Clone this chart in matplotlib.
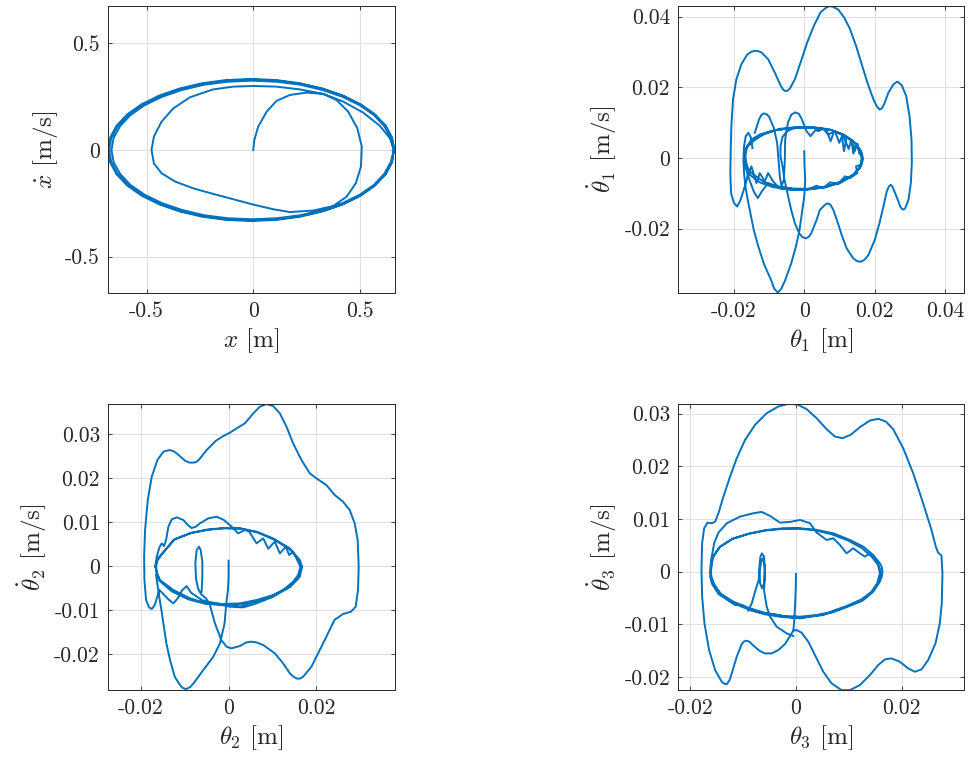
import numpy as np
import matplotlib.pyplot as plt
from matplotlib.ticker import FuncFormatter

plt.rcParams['font.family'] = 'cmr10'
plt.rcParams['mathtext.fontset'] = 'cm'
plt.rcParams['axes.unicode_minus'] = False
plt.rcParams['axes.formatter.use_mathtext'] = True

BLUE = '#0072BD'
DARK = '#262626'

# ---- cart: x [m], xdot [m/s] ----
cart_start = [(0, 0), (0.005, 0.047), (0.023, 0.109), (0.063, 0.180), (0.109, 0.230),
              (0.172, 0.258), (0.25, 0.269), (0.328, 0.263), (0.391, 0.234), (0.445, 0.180),
              (0.488, 0.102), (0.509, 0.016), (0.505, -0.078), (0.481, -0.156), (0.438, -0.219),
              (0.375, -0.263), (0.281, -0.284), (0.172, -0.291), (0.094, -0.278), (0, -0.256),
              (-0.094, -0.231), (-0.188, -0.206), (-0.281, -0.180), (-0.367, -0.148),
              (-0.430, -0.109), (-0.466, -0.063), (-0.477, 0), (-0.466, 0.063), (-0.430, 0.133),
              (-0.375, 0.195), (-0.297, 0.247), (-0.188, 0.284), (-0.094, 0.297), (0, 0.300),
              (0.109, 0.297), (0.219, 0.284), (0.328, 0.263), (0.422, 0.227), (0.516, 0.175),
              (0.594, 0.113), (0.641, 0.055), (0.659, 0)]
cart_loop1 = [(0.659, 0), (0.645, -0.057), (0.615, -0.111), (0.567, -0.163), (0.501, -0.209),
              (0.419, -0.249), (0.325, -0.281), (0.221, -0.306), (0.110, -0.320), (-0.005, -0.325),
              (-0.120, -0.320), (-0.231, -0.306), (-0.335, -0.281), (-0.429, -0.249),
              (-0.511, -0.209), (-0.577, -0.163), (-0.625, -0.111), (-0.655, -0.057), (-0.665, 0),
              (-0.655, 0.057), (-0.625, 0.111), (-0.577, 0.163), (-0.511, 0.209), (-0.429, 0.249),
              (-0.335, 0.281), (-0.231, 0.306), (-0.120, 0.320), (-0.005, 0.325), (0.110, 0.320),
              (0.221, 0.306), (0.325, 0.281), (0.419, 0.249), (0.501, 0.209), (0.567, 0.163),
              (0.615, 0.111), (0.645, 0.057), (0.660, 0)]
cart_loop2 = [(0.660, 0), (0.650, -0.057), (0.620, -0.113), (0.570, -0.165), (0.504, -0.212),
              (0.422, -0.253), (0.326, -0.286), (0.220, -0.310), (0.108, -0.325), (-0.008, -0.330),
              (-0.124, -0.325), (-0.236, -0.310), (-0.342, -0.286), (-0.438, -0.253),
              (-0.520, -0.212), (-0.586, -0.165), (-0.636, -0.113), (-0.666, -0.057), (-0.676, 0),
              (-0.666, 0.057), (-0.636, 0.113), (-0.586, 0.165), (-0.520, 0.212), (-0.438, 0.253),
              (-0.342, 0.286), (-0.236, 0.310), (-0.124, 0.325), (-0.008, 0.330), (0.108, 0.325),
              (0.220, 0.310), (0.326, 0.286), (0.422, 0.253), (0.504, 0.212), (0.570, 0.165),
              (0.620, 0.113), (0.650, 0.057), (0.660, 0)]
cart_loop3 = [(0.660, 0), (0.651, -0.058), (0.621, -0.114), (0.571, -0.167), (0.504, -0.214),
              (0.421, -0.255), (0.326, -0.288), (0.219, -0.313), (0.107, -0.328), (-0.010, -0.333),
              (-0.127, -0.328), (-0.239, -0.313), (-0.346, -0.288), (-0.441, -0.255),
              (-0.524, -0.214), (-0.591, -0.167), (-0.641, -0.114), (-0.671, -0.058), (-0.681, 0),
              (-0.671, 0.058), (-0.641, 0.114), (-0.591, 0.167), (-0.524, 0.214), (-0.441, 0.255),
              (-0.346, 0.288), (-0.239, 0.313), (-0.127, 0.328), (-0.010, 0.333), (0.107, 0.328),
              (0.219, 0.313), (0.326, 0.288), (0.421, 0.255), (0.504, 0.214), (0.571, 0.167),
              (0.621, 0.114), (0.651, 0.058), (0.662, 0)]

# ---- link 1 (values in 1e-3) ----
th1_start = [(0, 1.90), (0.09, -2.37), (0.28, -6.16), (0, -10.90), (-0.66, -15.64),
             (-1.33, -20.38), (-2.37, -25.12), (-3.70, -29.86), (-5.40, -34.60), (-6.50, -37.0),
             (-7.49, -38.1), (-8.50, -37.0), (-9.38, -34.60), (-11.47, -29.86), (-12.99, -25.12),
             (-14.31, -20.38), (-15.26, -15.64), (-16.02, -11.85), (-16.68, -8.06),
             (-17.06, -4.27), (-17.25, -0.47), (-17.06, 3.32), (-16.59, 6.16), (-15.83, 7.11),
             (-15.07, 5.69), (-14.69, 2.84)]
th1_inner = [(-14.03, 7.11), (-12.80, 10.90), (-12.20, 12.10), (-11.47, 12.61), (-10.70, 12.40),
             (-9.95, 11.66), (-8.63, 8.53), (-7.68, 4.27), (-7.30, -0.47), (-6.92, -5.21),
             (-6.45, -8.06), (-5.78, -6.16), (-5.50, -0.47), (-5.40, 5.21), (-4.64, 9.95),
             (-3.70, 12.20), (-2.60, 12.90), (-1.50, 12.50), (-0.66, 10.90), (0.66, 7.58),
             (1.80, 6.16), (2.94, 7.58), (4.45, 8.53), (6.35, 7.87), (7.49, 4.74), (8.44, 7.58),
             (10.62, 6.64), (11.28, 1.90), (12.04, 5.97), (13.46, 4.74), (13.93, 1.23),
             (14.69, 4.08), (15.64, 1.90), (16.59, -0.28), (15.83, -2.84), (13.93, -4.74),
             (10.62, -6.64), (6.35, -8.25), (1.61, -8.82), (-3.13, -8.72), (-7.87, -8.06),
             (-10.24, -7.11), (-12.04, -9.48), (-13.18, -11.37), (-14.31, -9.48),
             (-15.55, -6.16), (-16.59, -2.84), (-17.06, 0)]
th1_orbit_a = [(-17.06, 0), (-16.90, 1.50), (-16.40, 2.84), (-14.50, 4.74), (-11.66, 6.64),
               (-7.87, 7.87), (-3.13, 8.53), (2.56, 8.72), (7.30, 8.06), (11.09, 6.64),
               (13.93, 4.74), (15.83, 2.37), (16.40, 1.20), (16.59, 0), (16.45, -1.20),
               (16.02, -2.37), (13.93, -4.74), (10.62, -6.64), (6.35, -8.06), (1.61, -8.72),
               (-3.13, -8.72), (-7.87, -8.06), (-11.66, -6.64), (-14.98, -4.27), (-16.59, -2.09),
               (-16.95, -1.10), (-17.06, 0)]
th1_orbit_b = [(-17.06, -0.28), (-16.85, 1.60), (-16.21, 3.32), (-14.03, 5.40), (-10.71, 7.11),
               (-6.92, 8.25), (-2.18, 8.72), (3.03, 8.53), (7.77, 7.87), (11.56, 6.35),
               (14.41, 4.27), (16.11, 1.90), (16.40, -0.28), (15.64, -2.84), (13.46, -5.21),
               (10.14, -7.11), (5.40, -8.34), (0.66, -9.00), (-4.08, -8.91), (-8.82, -8.25),
               (-12.61, -6.92), (-15.45, -4.74), (-16.78, -2.37), (-17.06, -0.28)]
th1_outer = [(-15.92, -4.27), (-16.40, -6.64), (-17.44, -9.95), (-18.20, -12.20), (-19.05, -13.74),
             (-20.00, -12.60), (-20.76, -9.95), (-20.95, -4.27), (-20.85, 2.37), (-20.66, 9.00),
             (-20.19, 16.59), (-19.24, 22.27), (-17.82, 26.54), (-16.21, 29.19), (-15.10, 30.00),
             (-14.03, 30.33), (-13.00, 30.20), (-12.13, 29.86), (-10.24, 27.96), (-8.34, 24.17),
             (-6.73, 20.57), (-6.10, 19.50), (-5.50, 18.96), (-4.80, 19.00), (-4.08, 19.62),
             (-2.65, 22.27), (-1.04, 27.01), (0.85, 32.70), (2.75, 37.44), (4.64, 41.23),
             (6.35, 42.65), (7.20, 42.95), (8.06, 42.84), (9.67, 41.99), (11.28, 39.81),
             (12.99, 36.49), (14.69, 31.75), (16.30, 26.54), (17.91, 21.33), (19.62, 16.59),
             (20.60, 14.60), (21.33, 13.74), (22.00, 14.00), (22.65, 15.17), (23.89, 18.48),
             (25.31, 20.85), (26.45, 21.61), (27.68, 20.57), (28.91, 17.54), (29.86, 11.85),
             (30.43, 5.21), (30.52, -1.42), (30.24, -7.11), (29.57, -11.85), (28.63, -14.22),
             (28.20, -14.60), (27.77, -14.50), (27.20, -13.70), (26.73, -12.32), (25.59, -9.48),
             (25.00, -8.10), (24.55, -7.58), (24.00, -8.10), (23.41, -9.48), (22.46, -13.74),
             (21.33, -18.48), (20.00, -23.22), (18.20, -27.49), (17.10, -28.80), (16.02, -29.38),
             (15.00, -29.20), (13.93, -28.44), (12.04, -25.59), (10.62, -21.80), (9.57, -18.48),
             (8.25, -14.69), (7.60, -13.50), (7.11, -12.99), (6.50, -12.90), (5.88, -13.27),
             (4.45, -14.69), (3.51, -17.54), (1.99, -21.33), (1.20, -22.40), (0.38, -22.75),
             (-0.50, -22.40), (-1.42, -21.33), (-2.65, -18.48), (-3.70, -14.69), (-4.64, -10.43),
             (-5.59, -6.16), (-6.16, -2.37), (-6.73, 0.47), (-6.73, 3.32), (-6.16, 5.97),
             (-4.83, 7.58), (-3.13, 8.34)]
th1_orbit_c = [(-3.13, 8.34), (-0.28, 8.63), (2.56, 8.63), (3.98, 7.58), (5.40, 8.25),
               (6.82, 6.64), (8.72, 7.58), (9.95, 4.27), (10.90, 6.64), (12.61, 2.56),
               (13.36, 5.21), (14.31, 1.90), (15.07, 4.08), (15.64, 1.23), (16.30, 0.47),
               (16.21, -1.90), (14.69, -2.37), (15.07, -4.27), (12.99, -5.69), (11.56, -5.21),
               (9.67, -7.30), (7.30, -6.92), (5.40, -8.53), (3.51, -7.87), (0.66, -9.00),
               (-3.13, -9.00), (-6.92, -8.63), (-8.82, -6.64), (-10.24, -4.27), (-11.18, -6.64),
               (-12.61, -4.27), (-13.55, -7.11), (-14.98, -2.37), (-15.64, -4.27),
               (-16.40, -1.42), (-16.68, 0.47), (-16.21, 3.32), (-14.98, 5.21), (-12.61, 6.64),
               (-8.82, 7.77), (-4.08, 8.44)]

# ---- link 2 (values in 1e-3) ----
th2_start = [(0, 1.29), (0, -2.35), (-0.15, -5.38), (-0.53, -8.41), (-0.91, -12.95),
             (-1.97, -17.50), (-3.48, -20.53), (-5.76, -23.56), (-7.88, -26.44), (-8.70, -27.40),
             (-9.70, -27.90), (-10.50, -27.60), (-11.06, -26.97), (-12.27, -25.08),
             (-13.33, -21.29), (-14.17, -17.50), (-14.85, -12.95), (-15.30, -9.92),
             (-15.68, -7.65), (-16.14, -4.62), (-16.52, -1.97)]
th2_inner = [(-16.67, -0.08), (-16.36, 2.20), (-15.76, 4.32), (-15.23, 5.23), (-14.70, 4.62),
             (-14.24, 5.98), (-13.71, 9.02), (-12.95, 10.68), (-11.82, 11.14), (-10.30, 10.53),
             (-9.30, 9.40), (-8.41, 8.71), (-7.50, 9.00), (-6.52, 9.77), (-4.62, 10.91),
             (-2.73, 11.29), (-1.06, 10.53), (0.68, 9.02), (2.20, 7.50), (3.71, 8.26),
             (4.70, 7.88), (6.36, 5.23), (7.88, 6.36), (9.02, 4.02), (10.53, 5.61), (11.67, 2.95),
             (13.03, 4.47), (13.79, 2.58), (14.70, 3.33), (15.61, 1.44), (16.36, -0.08),
             (15.83, -1.97), (14.70, -3.48), (12.42, -5.38), (9.39, -7.05), (5.61, -8.11),
             (2.58, -9.17), (0.30, -8.79), (-2.73, -8.41), (-5.00, -8.03)]
th2_outer = [(-6.14, -5.76), (-5.98, -2.35), (-5.98, 1.06), (-6.36, 3.71), (-6.74, 4.47),
             (-7.27, 3.71), (-7.58, 0.68), (-7.42, -2.73), (-6.97, -5.00), (-6.29, -6.29),
             (-5.15, -7.27), (-4.32, -8.56), (-3.11, -12.95), (-1.67, -16.74), (-0.45, -18.26),
             (0.61, -18.64), (2.58, -18.11), (4.00, -17.30), (5.15, -17.12), (6.40, -17.30),
             (7.88, -17.88), (10.53, -19.77), (12.42, -22.05), (13.94, -24.32), (14.80, -25.10),
             (15.61, -25.53), (16.30, -25.50), (16.97, -25.08), (18.86, -22.80), (20.38, -19.77),
             (22.27, -15.98), (24.09, -12.20), (26.06, -10.83), (27.88, -10.30), (28.94, -9.17),
             (29.47, -5.38), (29.62, -0.08), (29.39, 5.98), (28.71, 9.77), (27.58, 12.80),
             (26.06, 14.70), (24.17, 16.21), (22.27, 18.48), (20.00, 20.00), (18.48, 21.14),
             (16.59, 24.17), (14.70, 27.95), (13.18, 31.74), (11.67, 34.77), (10.15, 36.44),
             (8.64, 36.89), (7.12, 36.29), (5.61, 34.77), (3.71, 32.50), (1.82, 31.36),
             (0.30, 30.38), (-1.21, 29.62), (-2.88, 28.56), (-5.00, 26.44), (-6.67, 24.32),
             (-7.40, 23.70), (-8.18, 23.56), (-9.00, 23.60), (-9.92, 24.02), (-11.82, 25.68),
             (-12.60, 26.20), (-13.48, 26.44), (-14.85, 26.06), (-16.21, 24.17), (-17.50, 20.38),
             (-18.41, 15.08), (-19.02, 8.26), (-19.24, 2.20), (-19.17, -3.11), (-18.79, -7.65),
             (-18.11, -9.32), (-17.50, -9.70), (-16.82, -8.79), (-16.36, -7.27), (-15.76, -5.38),
             (-14.85, -6.29), (-13.71, -7.50), (-12.58, -8.41), (-11.59, -7.27), (-10.68, -5.53),
             (-9.55, -4.47), (-8.56, -5.98), (-7.42, -6.74), (-6.14, -7.65), (-3.48, -8.41),
             (0.30, -9.17), (3.33, -9.32), (6.36, -8.41), (10.15, -6.89), (13.94, -4.62),
             (15.83, -2.73), (16.44, -0.45)]
th2_orbit_a = [(16.74, -0.08), (16.21, -2.35), (13.94, -4.62), (10.15, -6.52), (6.36, -7.65),
               (2.58, -8.41), (-1.21, -8.56), (-5.00, -8.41), (-8.79, -7.27), (-12.58, -5.38),
               (-15.61, -3.11), (-16.20, -1.70), (-16.52, -0.08), (-16.20, 1.30), (-15.61, 2.20),
               (-12.58, 5.98), (-8.79, 7.50), (-5.00, 8.26), (-1.21, 8.64), (2.58, 8.64),
               (6.36, 7.88), (10.15, 6.36), (13.94, 4.09), (16.21, 1.44), (16.74, -0.08)]
th2_orbit_b = [(16.52, -0.23), (15.91, -2.50), (13.56, -4.92), (9.77, -6.89), (5.98, -8.03),
               (2.20, -8.64), (-1.59, -8.79), (-5.38, -8.48), (-9.17, -7.50), (-12.95, -5.68),
               (-15.76, -3.26), (-16.40, -1.70), (-16.67, 0.08), (-16.30, 1.50), (-15.45, 2.58),
               (-12.20, 6.21), (-8.41, 7.65), (-4.62, 8.41), (-0.83, 8.71), (2.95, 8.56),
               (6.74, 7.65), (10.53, 5.98), (14.09, 3.71), (16.06, 1.29), (16.52, -0.23)]

# ---- link 3 (values in 1e-3) ----
th3_start = [(0, -0.44), (-0.06, -3.48), (-0.19, -6.65), (-0.32, -9.18), (-0.50, -11.20)]
th3_outer = [(-0.50, -11.20), (-1.14, -12.22), (-2.08, -13.73), (-3.34, -14.87), (-4.61, -15.51),
             (-5.87, -15.51), (-6.94, -15.00), (-8.20, -13.92), (-8.80, -13.30), (-9.34, -13.10),
             (-9.80, -13.20), (-10.28, -13.73), (-11.23, -16.14), (-12.18, -19.30),
             (-12.60, -20.60), (-13.12, -21.33), (-13.50, -21.30), (-14.07, -20.89),
             (-15.33, -18.67), (-16.47, -14.87), (-17.35, -9.81), (-17.79, -4.75), (-17.92, 0.32),
             (-17.79, 5.38), (-17.41, 8.23), (-16.78, 9.30), (-15.96, 9.18), (-15.33, 9.49),
             (-14.70, 11.08), (-13.75, 14.24), (-12.49, 18.04), (-11.23, 21.52), (-9.65, 25.00),
             (-7.76, 27.85), (-5.55, 30.06), (-3.34, 31.33), (-1.45, 31.84), (0.25, 31.71),
             (2.02, 30.82), (3.91, 29.11), (5.80, 27.03), (7.38, 25.63), (8.83, 25.32),
             (10.35, 25.95), (12.11, 27.41), (14.01, 28.67), (15.58, 28.99), (17.03, 28.48),
             (18.42, 27.03), (20.32, 23.42), (22.21, 18.67), (24.10, 12.97), (25.68, 7.91),
             (26.50, 4.75), (26.94, 3.61), (27.57, 3.04), (27.76, -0.32), (27.63, -6.01),
             (27.26, -9.81), (26.44, -13.61), (25.05, -16.77), (23.79, -18.54), (22.52, -18.99),
             (21.26, -18.35), (19.68, -17.09), (18.11, -16.46), (16.85, -16.65), (15.58, -17.72),
             (14.01, -19.62), (12.11, -21.52), (10.22, -22.47), (8.64, -22.47), (6.75, -21.20),
             (5.17, -18.99), (3.60, -15.82), (2.33, -13.29), (1.07, -11.58), (0.13, -11.08),
             (-0.50, -11.20)]
th3_spiral = [(-9.02, -7.41), (-8.39, -6.01), (-7.76, -3.80), (-7.07, -1.58), (-6.94, 0.95),
              (-6.75, 2.85), (-6.44, 3.48), (-6.06, 2.85), (-5.87, 0.32), (-6.06, -2.22),
              (-6.44, -3.16), (-6.81, -2.22), (-6.88, 0), (-6.62, 1.90), (-6.31, 2.53),
              (-5.99, 1.27), (-5.93, -1.58), (-6.06, -3.48), (-5.55, -6.65), (-4.92, -8.54),
              (-3.66, -10.44), (-1.77, -11.71), (-0.50, -12.22)]
th3_inner = [(-16.15, -0.95), (-15.96, 2.85), (-15.52, 5.38), (-14.70, 7.41), (-13.12, 9.18),
             (-10.60, 10.44), (-8.08, 11.08), (-6.50, 11.33), (-4.92, 10.57), (-3.03, 9.30),
             (-1.14, 9.43), (0.76, 9.81), (2.65, 9.18), (3.91, 7.41), (5.80, 6.01), (7.07, 6.33),
             (8.33, 5.06), (9.59, 3.48), (10.85, 4.43), (12.11, 3.48), (13.06, 2.85),
             (14.01, 3.48), (14.95, 2.53), (15.58, 1.27), (15.90, -0.32), (15.39, -2.22),
             (14.32, -3.80), (12.43, -5.25), (9.59, -6.52), (7.07, -7.41), (5.17, -8.23),
             (3.28, -8.42), (0.76, -8.86), (-1.77, -8.54), (-4.29, -8.04), (-6.81, -7.78),
             (-8.71, -7.28), (-10.28, -6.33), (-11.55, -6.33), (-12.81, -5.38), (-14.07, -4.43),
             (-15.33, -2.85), (-15.96, -1.27)]
th3_orbit_a = [(-15.65, 2.85), (-14.38, 4.75), (-11.86, 6.33), (-8.71, 7.28), (-5.55, 7.91),
               (-2.40, 8.23), (0.76, 8.23), (3.91, 7.91), (7.07, 7.28), (10.22, 6.01),
               (12.74, 4.75), (14.64, 3.16), (15.90, 1.58), (16.25, 0.90), (16.40, 0),
               (16.25, -1.00), (15.90, -1.90), (14.64, -3.80), (12.74, -5.38), (9.59, -6.65),
               (7.07, -7.59), (3.91, -8.23), (0.76, -8.54), (-2.40, -8.42), (-5.55, -7.91),
               (-8.71, -6.96), (-11.86, -5.70), (-14.38, -4.11), (-15.65, -2.22), (-16.00, -1.20),
               (-16.15, 0), (-16.00, 1.40), (-15.65, 2.85)]
th3_orbit_b = [(-15.96, 2.53), (-14.51, 4.62), (-12.18, 6.14), (-9.02, 7.15), (-5.87, 7.78),
               (-2.71, 8.10), (0.44, 8.16), (3.60, 7.85), (6.75, 7.09), (9.91, 5.89),
               (12.43, 4.49), (14.32, 2.85), (15.58, 1.27), (15.90, 0.55), (16.03, -0.19),
               (15.90, -1.10), (15.58, -2.09), (14.32, -3.99), (12.43, -5.57), (9.27, -6.84),
               (6.75, -7.78), (3.60, -8.42), (0.44, -8.80), (-2.71, -8.61), (-5.87, -8.10),
               (-9.02, -7.15), (-12.18, -5.89), (-14.70, -4.24), (-15.90, -2.34), (-16.20, -1.30),
               (-16.28, -0.19), (-16.20, 1.20), (-15.96, 2.53)]


def trajectory(*pieces, scale=1.0):
    # join the traced pieces, breaking the line where two pieces do not touch
    pts = []
    for piece in pieces:
        if pts and np.hypot(pts[-1][0] - piece[0][0], pts[-1][1] - piece[0][1]) > 1.5:
            pts.append((np.nan, np.nan))
        pts.extend(piece)
    arr = np.array(pts, dtype=float) * scale
    return arr[:, 0], arr[:, 1]


panels = [
    dict(data=trajectory(cart_start, cart_loop1, cart_loop2, cart_loop3),
         xlim=(-0.68, 0.663), ylim=(-0.672, 0.675),
         xticks=[-0.5, 0, 0.5], yticks=[-0.5, 0, 0.5],
         xlabel=r'$x$ [m]', ylabel=r'$\dot{x}$ [m/s]',
         rect=[0.1115, 0.6151, 0.2949, 0.3770]),
    dict(data=trajectory(th1_start, th1_inner, th1_orbit_a, th1_orbit_b, th1_outer,
                         th1_orbit_c, scale=1e-3),
         xlim=(-0.0357, 0.0454), ylim=(-0.0383, 0.0430),
         xticks=[-0.02, 0, 0.02, 0.04], yticks=[-0.02, 0, 0.02, 0.04],
         xlabel=r'$\theta_1$ [m]', ylabel=r'$\dot{\theta}_1$ [m/s]',
         rect=[0.6986, 0.6151, 0.2945, 0.3770]),
    dict(data=trajectory(th2_start, th2_inner, th2_outer, th2_orbit_a, th2_orbit_b,
                         scale=1e-3),
         xlim=(-0.0274, 0.0378), ylim=(-0.0281, 0.0369),
         xticks=[-0.02, 0, 0.02], yticks=[-0.02, -0.01, 0, 0.01, 0.02, 0.03],
         xlabel=r'$\theta_2$ [m]', ylabel=r'$\dot{\theta}_2$ [m/s]',
         rect=[0.1115, 0.0945, 0.2949, 0.3753]),
    dict(data=trajectory(th3_start, th3_outer, th3_spiral, th3_inner, th3_orbit_a,
                         th3_orbit_b, scale=1e-3),
         xlim=(-0.0223, 0.0319), ylim=(-0.02245, 0.0318),
         xticks=[-0.02, 0, 0.02], yticks=[-0.02, -0.01, 0, 0.01, 0.02, 0.03],
         xlabel=r'$\theta_3$ [m]', ylabel=r'$\dot{\theta}_3$ [m/s]',
         rect=[0.6986, 0.0945, 0.2945, 0.3753]),
]

fmt = FuncFormatter(lambda v, pos: '0' if abs(v) < 1e-12 else f'{v:g}')

fig = plt.figure(figsize=(9.71, 7.62), dpi=100)
for p in panels:
    ax = fig.add_axes(p['rect'])
    x, y = p['data']
    ax.plot(x, y, color=BLUE, lw=1.4, solid_joinstyle='round')
    ax.set_xlim(*p['xlim'])
    ax.set_ylim(*p['ylim'])
    ax.set_xticks(p['xticks'])
    ax.set_yticks(p['yticks'])
    ax.xaxis.set_major_formatter(fmt)
    ax.yaxis.set_major_formatter(fmt)
    ax.grid(True, color='#e1e1e1', lw=0.8)
    ax.set_axisbelow(True)
    ax.tick_params(direction='in', top=True, right=True, length=3, width=0.6,
                   labelsize=15.5, colors=DARK, pad=6)
    for s in ax.spines.values():
        s.set_color(DARK)
        s.set_linewidth(0.7)
    ax.set_xlabel(p['xlabel'], fontsize=18, color=DARK)
    ax.set_ylabel(p['ylabel'], fontsize=18, color=DARK)

fig.savefig('out.png', dpi=100)
